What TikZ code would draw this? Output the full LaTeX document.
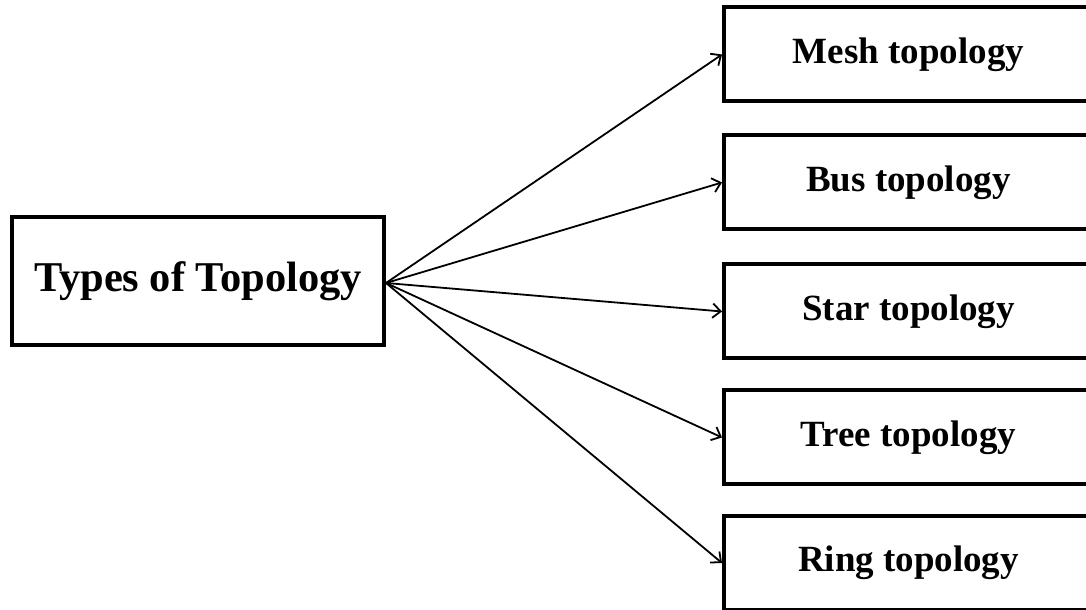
\documentclass[tikz,border=0pt]{standalone}
\usepackage{fontspec}
\setmainfont{Liberation Serif}
\usetikzlibrary{arrows.meta}
\begin{document}
\begin{tikzpicture}[
    mainbox/.style={draw, line width=0.1cm, minimum width=9.3cm, minimum height=3.2cm,
      font=\fontsize{30.2}{36}\selectfont\bfseries},
    kindbox/.style={draw, line width=0.1cm, minimum width=9.225cm, minimum height=2.35cm,
      font=\fontsize{26.3}{31}\selectfont\bfseries},
    link/.style={-{Straight Barb[length=0.2cm,width=0.36cm]}, line width=0.045cm}]
                        \useasboundingbox (0,0) rectangle (27.150000,15.250000);
                        \clip (0,0) rectangle (27.150000,15.250000);

                        % Drawing box of the root
                        \node [mainbox] (types) at (4.950000,8.225000) {Types of Topology};

                        % Drawing boxes of the kinds
                        \node [kindbox] (mesh) at (22.712500,13.887500) {Mesh topology};
                        \node [kindbox] (bus)  at (22.712500,10.687500) {Bus topology};
                        \node [kindbox] (star) at (22.712500,7.462500) {Star topology};
                        \node [kindbox] (tree) at (22.712500,4.312500) {Tree topology};
                        \node [kindbox] (ring) at (22.712500,1.175000) {Ring topology};

                        % Drawing arrows root -> kinds
                        \draw [link] ([yshift=-0.05cm]types.east) -- (mesh.west);%
                        \draw [link] ([yshift=-0.05cm]types.east) -- (bus.west);%
                        \draw [link] ([yshift=-0.05cm]types.east) -- (star.west);%
                        \draw [link] ([yshift=-0.05cm]types.east) -- (tree.west);%
                        \draw [link] ([yshift=-0.05cm]types.east) -- (ring.west);%
\end{tikzpicture}
\end{document}
